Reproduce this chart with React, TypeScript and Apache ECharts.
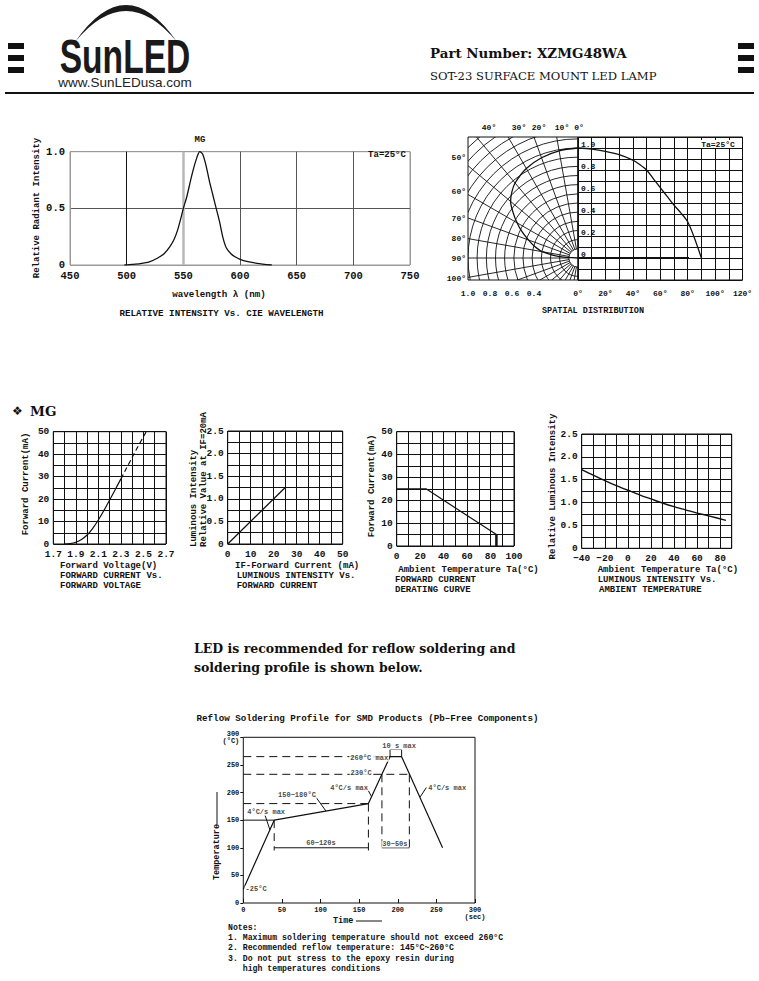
import React, { useEffect, useRef } from 'react';
import * as echarts from 'echarts';

const MONO = '"Liberation Mono", "DejaVu Sans Mono", monospace';
const SERIF = '"DejaVu Serif", "Liberation Serif", serif';
const SANS = '"Liberation Sans", Arial, sans-serif';
const INK = '#111';

// ---------- Spectrum: relative intensity vs wavelength ----------
const spectrumWavelength = [498, 505, 512, 520, 527, 533, 538, 542, 545, 548, 550, 553, 556, 559, 562, 564.5, 567, 570, 573, 576, 579, 582, 585, 588, 592, 596, 600, 607, 615, 628];
const spectrumIntensity = [0, 0.005, 0.012, 0.028, 0.06, 0.1, 0.16, 0.23, 0.31, 0.42, 0.5, 0.6, 0.73, 0.85, 0.95, 1.0, 0.98, 0.88, 0.74, 0.62, 0.5, 0.38, 0.24, 0.15, 0.1, 0.07, 0.05, 0.03, 0.015, 0];
const spectrumGridColors = ['#9a9a9a', '#111', '#9a9a9a', '#555', '#555', '#555', '#9a9a9a'];

// ---------- Spatial distribution ----------
const spatialAngle = [0, 10, 20, 30, 40, 45, 50, 55, 60, 65, 70, 75, 80, 85, 90];
const spatialIntensity = [1.0, 0.99, 0.97, 0.94, 0.89, 0.85, 0.8, 0.72, 0.64, 0.56, 0.48, 0.41, 0.33, 0.18, 0];
const spatialBaseAngle = [0, 81];
const spatialBaseValue = [0, 0];
const polarRingRadii = [0.083, 0.167, 0.25, 0.333, 0.417, 0.5, 0.583, 0.667, 0.75, 0.833, 0.917, 1.0, 1.083, 1.167, 1.25, 1.333, 1.417, 1.5];
const polarSpokeAngles = [0, 10, 20, 30, 40, 50, 60, 70, 80, 90, 100, 110, 120, 130, 140, 150, 160, 170, 180];

// ---------- Forward current vs forward voltage ----------
const ivVoltage = [1.8, 1.85, 1.9, 1.95, 2.0, 2.05, 2.1, 2.15, 2.2, 2.25, 2.3];
const ivCurrent = [0, 0.2, 0.8, 2, 4, 7, 10.7, 15, 19.6, 24.3, 29];
const ivDashVoltage = [2.3, 2.35, 2.4, 2.45, 2.5, 2.525];
const ivDashCurrent = [29, 33.8, 38.6, 43.3, 47.8, 50];

// ---------- Luminous intensity vs forward current ----------
const lumCurrent = [0, 25];
const lumRelative = [0, 1.25];

// ---------- Derating curve ----------
const deratingTemp = [0, 25, 85];
const deratingCurrent = [25, 25, 5];
const cutoffTemp = [85, 85];
const cutoffCurrent = [5, 0];

// ---------- Luminous intensity vs ambient temperature ----------
const ambientTemp = [-40, -30, -20, -10, 0, 10, 20, 30, 40, 50, 60, 70, 85];
const ambientLum = [1.72, 1.6, 1.48, 1.37, 1.27, 1.17, 1.08, 0.99, 0.91, 0.84, 0.77, 0.71, 0.61];

// ---------- Reflow profile ----------
const reflowTime = [0, 40, 162, 190, 205, 258];
const reflowTemp = [25, 150, 180, 265, 265, 100];
const reflowDashed = [
  [[0, 265], [190, 265]],
  [[0, 233], [215, 233]],
  [[0, 180], [162, 180]],
  [[40, 150], [40, 95]],
  [[162, 180], [162, 95]],
  [[179.5, 233], [179.5, 95]],
  [[215, 233], [215, 95]],
];
const reflowSolid = [
  [[0, 150], [40, 150]],
  [[40, 100], [162, 100]],
  [[179.5, 100], [215, 100]],
  [[190, 265], [190, 278], [205, 278], [205, 265]],
  [[92.8, 194], [107, 166.5]],
  [[28.1, 159], [34.6, 132]],
  [[159.8, 209], [166.2, 192]],
  [[229, 192], [237, 209]],
];
const reflowNotes = [
  { text: '260°C max', time: 163, temp: 262, align: 'center' },
  { text: '230°C', time: 152.5, temp: 234.5, align: 'center' },
  { text: '4°C/s max', time: 137, temp: 209, align: 'center' },
  { text: '150~180°C', time: 69.5, temp: 195, align: 'center' },
  { text: '4°C/s max', time: 29.6, temp: 164.5, align: 'center' },
  { text: '4°C/s max', time: 237.6, temp: 209, align: 'left' },
  { text: '60~120s', time: 100.6, temp: 108, align: 'center' },
  { text: '30~50s', time: 196.3, temp: 106.6, align: 'center' },
  { text: '10 s max', time: 201.7, temp: 284, align: 'center' },
  { text: '-25°C', time: 1, temp: 25, align: 'left' },
];
const notesLines = [
  'Notes:',
  '1. Maximum soldering temperature should not exceed 260°C',
  '2. Recommended reflow temperature: 145°C~260°C',
  '3. Do not put stress to the epoxy resin during',
  '   high temperatures conditions',
];

echarts.graphic.registerShape(
  'sunArc',
  echarts.graphic.extendPath('M75,42 Q126,-32 177,42 Q126,-20 75,42 Z', {}) as any
);

const zip = (a: number[], b: number[]) => a.map((v, i) => [v, b[i]]);

const T = (text: string, x: number, y: number, o: any = {}) => ({
  type: 'text',
  x,
  y,
  rotation: o.rot || 0,
  scaleX: o.scaleX || 1,
  silent: true,
  z: 10,
  style: {
    text,
    fill: o.fill || INK,
    fontFamily: o.family || MONO,
    fontWeight: o.weight || 'bold',
    fontSize: o.size || 9,
    align: o.align || 'left',
    verticalAlign: o.va || 'middle',
    backgroundColor: o.bg,
    padding: o.bg ? [0, 2] : 0,
  },
});

const labelStyle = (size: number, extra: any = {}) => ({
  fontFamily: MONO,
  fontWeight: 'bold',
  fontSize: size,
  color: INK,
  showMinLabel: true,
  showMaxLabel: true,
  ...extra,
});

const valAxis = (gi: number, min: number, max: number, interval: number, fmt: any, extra: any = {}) => ({
  gridIndex: gi,
  type: 'value',
  min,
  max,
  interval,
  axisLine: { show: false },
  axisTick: { show: false },
  splitLine: { show: true, lineStyle: { color: INK, width: 1 } },
  axisLabel: labelStyle(9.5, { formatter: fmt, margin: 5 }),
  ...extra,
});

const r1 = (v: number) => Math.round(v * 100) / 100;

export default function App() {
  const ref = useRef<HTMLDivElement>(null);
  useEffect(() => {
    if (!ref.current) return;
    const chart = echarts.init(ref.current, null, { renderer: 'svg' });

    const gridBase = { show: true, borderColor: INK, borderWidth: 1, backgroundColor: 'transparent', containLabel: false, outerBoundsMode: 'none' };
    const grids = [
      { ...gridBase, left: 70, top: 151.7, width: 340, height: 113.3, borderColor: '#9a9a9a' },
      { ...gridBase, left: 468, top: 137, width: 110, height: 143 },
      { ...gridBase, left: 578, top: 137, width: 164.5, height: 143 },
      { ...gridBase, left: 53.3, top: 431.7, width: 112.7, height: 112.3 },
      { ...gridBase, left: 227.7, top: 431, width: 115, height: 113 },
      { ...gridBase, left: 396.7, top: 431.7, width: 117.3, height: 114.3 },
      { ...gridBase, left: 581.7, top: 434, width: 150, height: 114.3 },
      { ...gridBase, left: 243.3, top: 737.3, width: 231.7, height: 165.7 },
    ];

    const polarFmt = (v: number) => {
      const a = Math.abs(r1(v));
      return a >= 0.39 ? a.toFixed(1) : '';
    };

    const xAxis: any[] = [
      valAxis(0, 450, 750, 50, (v: number) => String(v), {
        splitLine: { show: true, lineStyle: { color: spectrumGridColors, width: 1 } },
        axisLabel: labelStyle(10.5, { margin: 5 }),
      }),
      valAxis(1, -1, 0, 0.2, polarFmt, { splitLine: { show: false }, axisLabel: labelStyle(8, { margin: 9, formatter: polarFmt }) }),
      valAxis(2, 0, 120, 10, null, {
        axisLabel: labelStyle(8, { margin: 9, formatter: (v: number) => (Math.round(v) % 20 === 0 ? `${Math.round(v)}°` : '') }),
      }),
      valAxis(3, 1.7, 2.7, 0.1, (v: number) => (Math.round(v * 10) % 2 === 1 ? (Math.round(v * 10) / 10).toFixed(1) : '')),
      valAxis(4, 0, 50, 5, (v: number) => (Math.round(v) % 10 === 0 ? String(Math.round(v)) : '')),
      valAxis(5, 0, 100, 10, (v: number) => (Math.round(v) % 20 === 0 ? String(Math.round(v)) : '')),
      valAxis(6, -40, 90, 10, (v: number) => {
        const n = Math.round(v);
        if (n % 20 !== 0 || n > 80) return '';
        return n < 0 ? `\u2212${-n}` : String(n);
      }),
      {
        gridIndex: 7, type: 'value', min: 0, max: 300, interval: 50,
        axisLine: { show: false },
        axisTick: { show: true, inside: true, length: 4, lineStyle: { color: INK } },
        splitLine: { show: false },
        axisLabel: labelStyle(7, { margin: 3, lineHeight: 7, formatter: (v: number) => (v === 300 ? '300\n(sec)' : String(v)) }),
      },
    ];

    const quarterFmt = (v: number) => {
      const n = Math.round(v * 4);
      if (n === 0) return '0';
      return n % 2 === 0 ? (n / 4).toFixed(1) : '';
    };
    const tenFmt = (v: number) => (Math.round(v) % 10 === 0 ? String(Math.round(v)) : '');

    const yAxis: any[] = [
      valAxis(0, 0, 1, 0.5, null, {
        splitLine: { show: true, lineStyle: { color: ['#9a9a9a', '#555', '#9a9a9a'], width: 1 } },
        axisLabel: labelStyle(10.5, { margin: 5, formatter: (v: number) => (v === 0 ? '0' : v.toFixed(1)) }),
      }),
      valAxis(1, -0.2, 1.1, 0.1, null, { splitLine: { show: false }, axisLabel: { show: false } }),
      valAxis(2, -0.2, 1.1, 0.1, null, {
        axisLabel: labelStyle(8, {
          inside: true, margin: 3, verticalAlign: 'bottom',
          formatter: (v: number) => {
            const n = Math.round(v * 10);
            if (n < 0 || n % 2 !== 0 || n > 10) return '';
            return n === 0 ? '0' : (n / 10).toFixed(1);
          },
        }),
      }),
      valAxis(3, 0, 50, 5, null, { axisLabel: labelStyle(9.5, { margin: 4, formatter: tenFmt }) }),
      valAxis(4, 0, 2.5, 0.25, null, { axisLabel: labelStyle(9.5, { margin: 4, formatter: quarterFmt }) }),
      valAxis(5, 0, 50, 5, null, { axisLabel: labelStyle(9.5, { margin: 4, formatter: tenFmt }) }),
      valAxis(6, 0, 2.5, 0.25, null, { axisLabel: labelStyle(9.5, { margin: 4, formatter: quarterFmt }) }),
      {
        gridIndex: 7, type: 'value', min: 0, max: 300, interval: 50,
        axisLine: { show: false },
        axisTick: { show: true, inside: false, length: 3, lineStyle: { color: INK } },
        splitLine: { show: false },
        axisLabel: labelStyle(7, { margin: 4, lineHeight: 7, formatter: (v: number) => (v === 300 ? '300\n(°C)' : String(v)) }),
      },
    ];

    const lineS = (gi: number, data: any[], o: any = {}) => ({
      type: 'line',
      xAxisIndex: gi,
      yAxisIndex: gi,
      data,
      symbol: 'none',
      silent: true,
      smooth: o.smooth || false,
      clip: o.clip === undefined ? true : o.clip,
      z: o.z || 3,
      lineStyle: { color: INK, width: o.width || 1.2, type: o.type || 'solid' },
    });

    const series: any[] = [
      {
        ...lineS(0, zip(spectrumWavelength, spectrumIntensity), { smooth: 0.25, width: 1.3 }),
        markLine: {
          silent: true, symbol: ['none', 'none'], label: { show: false },
          lineStyle: { color: '#b8b8b8', width: 2.5, type: 'solid' },
          data: [{ xAxis: 550 }],
          z: 1,
        },
      },
      {
        type: 'custom', xAxisIndex: 1, yAxisIndex: 1, clip: true, silent: true, z: 2,
        data: polarRingRadii.map((r) => [-r, 0]),
        renderItem: (_p: any, api: any) => {
          const r = -api.value(0);
          const c = api.coord([0, 0]);
          const e = api.coord([-r, 0]);
          const rr = Math.abs(c[0] - e[0]);
          return {
            type: 'arc',
            shape: { cx: c[0], cy: c[1], r: rr, startAngle: Math.PI / 2, endAngle: Math.PI * 1.5, clockwise: true },
            style: { stroke: INK, fill: 'none', lineWidth: 0.9 },
          };
        },
      },
      {
        type: 'custom', xAxisIndex: 1, yAxisIndex: 1, clip: true, silent: true, z: 2,
        data: polarSpokeAngles.map((a) => [a, 0]),
        renderItem: (_p: any, api: any) => {
          const a = (api.value(0) * Math.PI) / 180;
          const r0 = 0.083, rEnd = 2;
          const p0 = api.coord([-r0 * Math.sin(a), r0 * Math.cos(a)]);
          const p1 = api.coord([-rEnd * Math.sin(a), rEnd * Math.cos(a)]);
          return {
            type: 'line',
            shape: { x1: p0[0], y1: p0[1], x2: p1[0], y2: p1[1] },
            style: { stroke: INK, lineWidth: 0.9 },
          };
        },
      },
      lineS(1, spatialAngle.map((a, i) => {
        const t = (a * Math.PI) / 180;
        return [-spatialIntensity[i] * Math.sin(t), spatialIntensity[i] * Math.cos(t)];
      }), { smooth: 0.3, width: 1.3 }),
      lineS(2, zip(spatialAngle, spatialIntensity), { smooth: 0.3, width: 1.3 }),
      lineS(2, zip(spatialBaseAngle, spatialBaseValue), { width: 2 }),
      lineS(3, zip(ivVoltage, ivCurrent), { smooth: 0.3, width: 1.2 }),
      lineS(3, zip(ivDashVoltage, ivDashCurrent), { smooth: 0.3, width: 1.2, type: [5, 3] }),
      lineS(4, zip(lumCurrent, lumRelative), { width: 1.3 }),
      lineS(5, zip(deratingTemp, deratingCurrent), { width: 1.2 }),
      lineS(5, zip(cutoffTemp, cutoffCurrent), { width: 2.5 }),
      lineS(6, zip(ambientTemp, ambientLum), { smooth: 0.3, width: 1.4 }),
      lineS(7, zip(reflowTime, reflowTemp), { width: 1.2 }),
      ...reflowDashed.map((seg) => lineS(7, seg, { width: 1, type: [8, 5] })),
      ...reflowSolid.map((seg) => lineS(7, seg, { width: 1 })),
      {
        type: 'scatter', xAxisIndex: 7, yAxisIndex: 7, silent: true, clip: false, z: 6,
        symbolSize: 1, itemStyle: { color: 'rgba(0,0,0,0)' },
        data: reflowNotes.map((n) => ({
          name: n.text,
          value: [n.time, n.temp],
          label: { align: n.align, position: n.align === 'left' ? 'right' : 'inside', distance: 0 },
        })),
        label: {
          show: true, formatter: '{b}', fontFamily: MONO, fontWeight: 'bold', fontSize: 7, color: INK,
          backgroundColor: '#fff', padding: [0, 1],
        },
      },
    ];

    const topAngleLabels: [string, number][] = [['40°', 489], ['30°', 519], ['20°', 539], ['10°', 562], ['0°', 579]];
    const leftAngleLabels: [string, number][] = [['50°', 157], ['60°', 191], ['70°', 218], ['80°', 238], ['90°', 258], ['100°', 278]];

    const graphics: any[] = [
      // header
      ...[43, 55, 67].flatMap((y) => [
        { type: 'rect', shape: { x: 8, y, width: 16, height: 6 }, style: { fill: INK }, silent: true },
        { type: 'rect', shape: { x: 738, y, width: 16, height: 6 }, style: { fill: INK }, silent: true },
      ]),
      { type: 'sunArc', x: 0, y: 0, silent: true, style: { fill: '#1a1a1a' } },
      T('SunLED', 125, 56, { family: SANS, size: 48, align: 'center', scaleX: 0.7, fill: '#1a1a1a' }),
      T('www.SunLEDusa.com', 125, 82, { family: SANS, size: 13.5, weight: 'normal', align: 'center', fill: '#222' }),
      T('Part Number: XZMG48WA', 430, 53, { family: SERIF, size: 13.4 }),
      T('SOT-23 SURFACE MOUNT LED LAMP', 430, 76, { family: SERIF, size: 11.6, weight: 'normal' }),
      { type: 'line', shape: { x1: 5, y1: 93, x2: 754, y2: 93 }, style: { stroke: INK, lineWidth: 2 }, silent: true },

      // spectrum
      T('MG', 200, 140, { align: 'center', size: 9 }),
      T('Ta=25°C', 387, 155, { align: 'center', size: 9 }),
      T('Relative Radiant Intensity', 37, 208, { align: 'center', rot: Math.PI / 2, size: 9 }),
      T('wavelength λ (nm)', 219, 294, { align: 'center', size: 9.2 }),
      T('RELATIVE INTENSITY Vs. CIE WAVELENGTH', 221.5, 313, { align: 'center', size: 9.2 }),

      // spatial
      T('Ta=25°C', 718, 144, { align: 'center', size: 8, bg: '#fff' }),
      ...topAngleLabels.map(([t, x]) => T(t, x, 127, { align: 'center', size: 8 })),
      ...leftAngleLabels.map(([t, y]) => T(t, 466, y, { align: 'right', size: 8 })),
      T('SPATIAL DISTRIBUTION', 593, 311, { align: 'center', size: 8.5 }),

      // MG section
      T('\u2756', 12, 411, { family: '"DejaVu Sans", sans-serif', size: 12, weight: 'normal' }),
      T('MG', 30, 411, { family: SERIF, size: 13.5 }),

      // small chart 1
      T('Forward Current(mA)', 26, 484, { align: 'center', rot: Math.PI / 2, size: 9 }),
      T('Forward Voltage(V)', 60, 566, { size: 9 }),
      T('FORWARD CURRENT Vs.', 60, 576, { size: 9 }),
      T('FORWARD VOLTAGE', 60, 586, { size: 9 }),

      // small chart 2
      T('Luminous Intensity', 194, 547, { rot: Math.PI / 2, size: 9 }),
      T('Relative Value at IF=20mA', 204, 547, { rot: Math.PI / 2, size: 9 }),
      T('IF-Forward Current (mA)', 235, 566, { size: 9 }),
      T('LUMINOUS INTENSITY Vs.', 236.7, 576, { size: 9 }),
      T('FORWARD CURRENT', 236.7, 586, { size: 9 }),

      // small chart 3
      T('Forward Current(mA)', 371.5, 486, { align: 'center', rot: Math.PI / 2, size: 9 }),
      T('Ambient Temperature Ta(°C)', 398.3, 570, { size: 9 }),
      T('FORWARD CURRENT', 395, 580, { size: 9 }),
      T('DERATING CURVE', 395, 590, { size: 9 }),

      // small chart 4
      T('Relative Luminous Intensity', 552.7, 486.5, { align: 'center', rot: Math.PI / 2, size: 9 }),
      T('Ambient Temperature Ta(°C)', 597.7, 570, { size: 9 }),
      T('LUMINOUS INTENSITY Vs.', 597.7, 580, { size: 9 }),
      T('AMBIENT TEMPERATURE', 599, 590, { size: 9 }),

      // reflow intro
      T('LED is recommended for reflow soldering and', 194, 648, { family: SERIF, size: 12.5 }),
      T('soldering profile is shown below.', 194, 667, { family: SERIF, size: 12.5 }),

      // reflow chart
      T('Reflow Soldering Profile for SMD Products (Pb\u2013Free Components)', 367.5, 718, { align: 'center', size: 9.2 }),
      T('Temperature', 217, 852, { align: 'center', rot: Math.PI / 2, size: 8.5 }),
      { type: 'line', shape: { x1: 217, y1: 826, x2: 217, y2: 792 }, style: { stroke: INK, lineWidth: 1 }, silent: true },
      T('Time', 333, 921, { size: 8.5 }),
      { type: 'line', shape: { x1: 356, y1: 921, x2: 382, y2: 921 }, style: { stroke: INK, lineWidth: 1 }, silent: true },
      ...notesLines.map((t, i) => T(t, 228, [927, 937, 947, 958, 968][i], { size: 8.2 })),
    ];

    chart.setOption({
      animation: false,
      backgroundColor: '#fff',
      grid: grids,
      xAxis,
      yAxis,
      series,
      graphic: { elements: graphics },
    });
    return () => chart.dispose();
  }, []);

  return <div ref={ref} style={{ position: 'absolute', left: 0, top: 0, width: 759, height: 981, background: '#fff' }} />;
}
